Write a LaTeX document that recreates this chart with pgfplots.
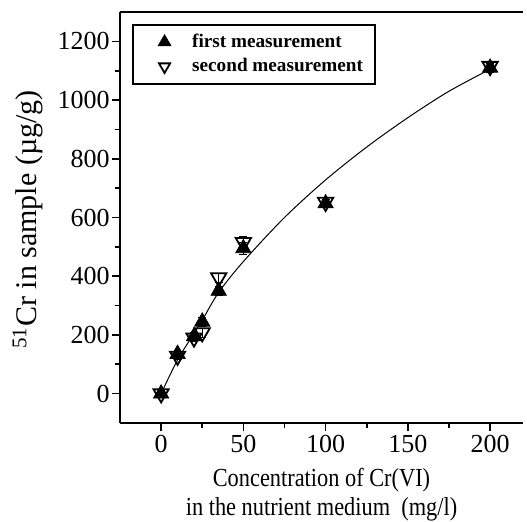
\documentclass[border=0pt]{standalone}
\usepackage{fontspec}
\setmainfont{Liberation Serif}
\newfontfamily\labelfont[FakeStretch=0.86]{Liberation Serif}
\usepackage{pgfplots}
\pgfplotsset{compat=1.18}
\pgfplotsset{
  markleg/.style={legend image code/.code={
      \draw[##1, mark size=3.2pt] plot coordinates {(0.4cm,0cm)};
      \path (0cm,0cm) (0.8cm,0cm);}},
}
\begin{document}
\begin{tikzpicture}
  \begin{axis}[
      scale only axis,
      width=201.5pt, height=205.5pt,
      xmin=-25, xmax=220,
      ymin=-100, ymax=1300,
      axis x line*=bottom,
      axis y line*=left,
      axis line style={line width=1pt, -},
      xtick={0,50,...,200},
      ytick={0,200,...,1200},
      minor x tick num=1,
      minor y tick num=1,
      tick align=outside,
      major tick length=4pt,
      minor tick length=2.5pt,
      tick style={black, line width=0.8pt},
      /pgf/number format/assume math mode=true,
      /pgf/number format/set thousands separator={},
      ticklabel style={font=\fontsize{13}{14}\selectfont},
      yticklabel style={inner xsep=1pt},
      xticklabel style={inner ysep=2pt},
      legend style={at={(rel axis cs:0,1)}, anchor=north west, xshift=6pt, yshift=-6pt,
        draw=black, line width=0.9pt, font=\bfseries\fontsize{9.6}{12.5}\selectfont,
        inner xsep=4pt, inner ysep=2.5pt, row sep=0pt},
      legend cell align=left,
      clip=false,
    ]
    \coordinate (BL) at (rel axis cs:0,0);
    \coordinate (TR) at (rel axis cs:1,1);
    \draw[line width=1pt] (rel axis cs:0,1) -- (rel axis cs:1,1);

    % axis labels
    \path (rel axis cs:0,0.5) ++(-46pt,-1pt) node[rotate=90, anchor=center,
      font=\fontsize{15}{16}\selectfont] {\textsuperscript{51}Cr in sample (µg/g)};
    \path (rel axis cs:0.5,0) ++(0pt,-32pt) node[anchor=base,
      font=\labelfont\fontsize{13}{14}\selectfont] {Concentration of Cr(VI)};
    \path (rel axis cs:0.5,0) ++(0pt,-46.5pt) node[anchor=base,
      font=\labelfont\fontsize{13}{14}\selectfont] {in the nutrient medium\ \ (mg/l)};

    % first measurement
    \addplot[only marks, mark=triangle*, mark size=4.4pt, black, markleg,
      error bars/.cd, y dir=both, y explicit, error mark options={rotate=90, mark size=2pt}]
      coordinates {
      (0,0) +- (0,10) (10,135) +- (0,10) (20,195) +- (0,12) (25,245) +- (0,15)
      (35,350) +- (0,15) (50,495) +- (0,20) (100,648) +- (0,15) (200,1110) +- (0,15)
    };
    \addlegendentry{first measurement}

    % second measurement
    \addplot[only marks, mark=triangle, mark size=4.4pt, black, line width=0.9pt,
      mark options={rotate=180, fill=white}, markleg,
      error bars/.cd, y dir=both, y explicit, error mark options={rotate=90, mark size=2pt}]
      coordinates {
      (0,0) +- (0,10) (10,128) +- (0,10) (20,190) +- (0,12) (25,208) +- (0,15)
      (35,395) +- (0,15) (50,515) +- (0,20) (100,652) +- (0,15) (200,1115) +- (0,15)
    };
    \addlegendentry{second measurement}

    % fitted curve
    \addplot[smooth, black, line width=0.5pt, forget plot] coordinates {
      (0,0) (10,115) (20,205) (25,250) (35,345) (50,450) (75,600)
      (100,728) (125,840) (150,940) (175,1030) (200,1105)
    };
  \end{axis}
  \pgfresetboundingbox
  \path[use as bounding box] ([shift={(-60pt,-49.5pt)}]BL) rectangle ([shift={(2pt,6pt)}]TR);
\end{tikzpicture}
\end{document}
